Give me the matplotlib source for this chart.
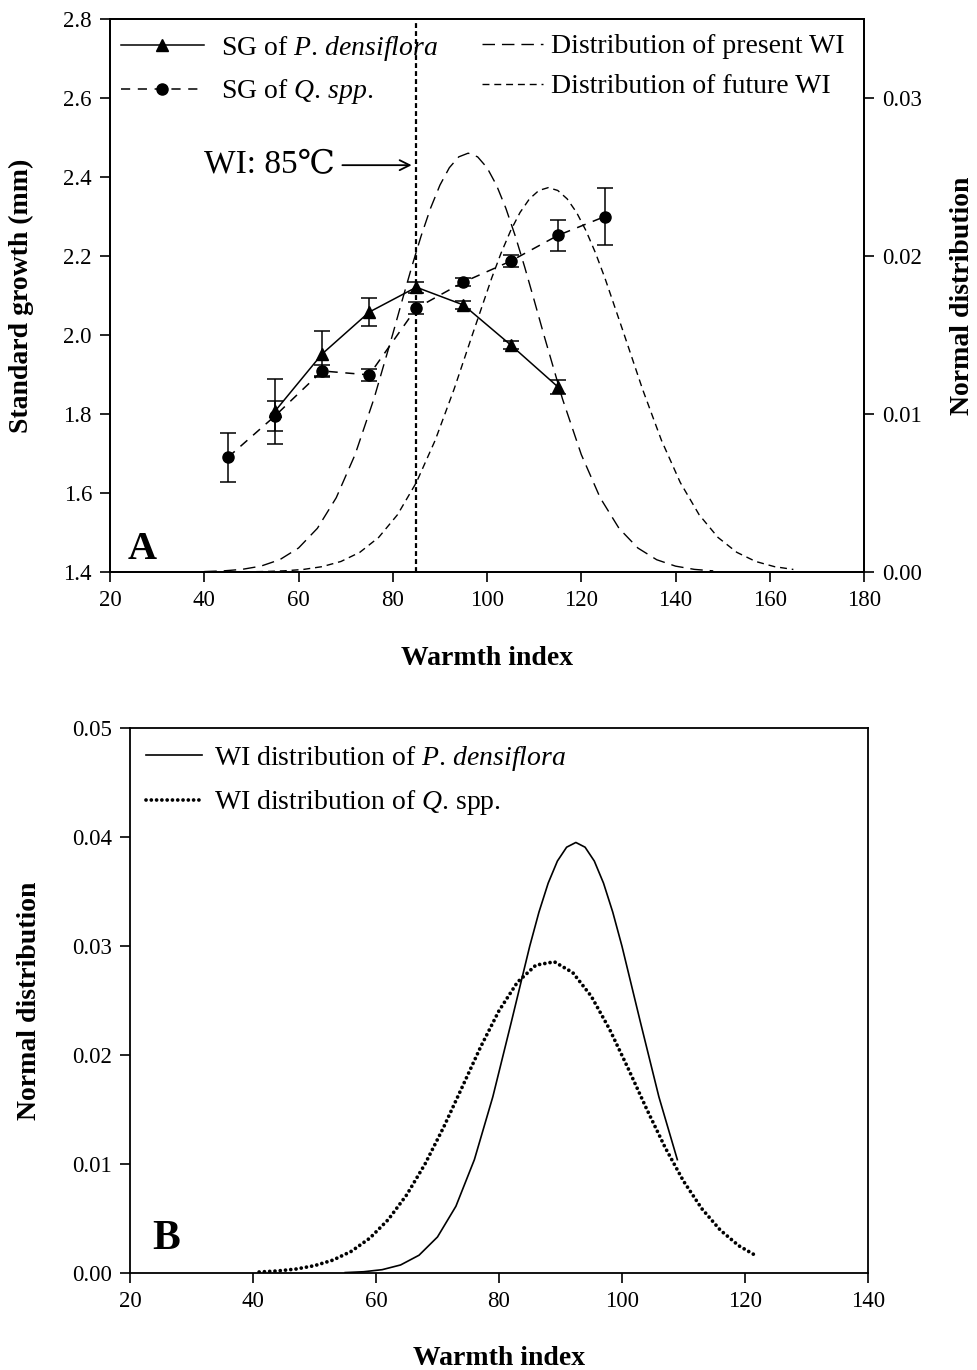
import matplotlib
matplotlib.use("Agg")
import matplotlib.pyplot as plt
from matplotlib.lines import Line2D

plt.rcParams['font.family'] = ['Liberation Serif', 'DejaVu Serif']
plt.rcParams['mathtext.fontset'] = 'custom'
plt.rcParams['mathtext.rm'] = 'Liberation Serif'
plt.rcParams['mathtext.it'] = 'Liberation Serif:italic'
plt.rcParams['mathtext.bf'] = 'Liberation Serif:bold'

# ---- panel A data ----
# standard growth of P. densiflora
wi_p = [55, 65, 75, 85, 95, 105, 115]
sg_p = [1.807, 1.952, 2.058, 2.121, 2.076, 1.975, 1.869]
err_p = [0.082, 0.058, 0.036, 0.014, 0.010, 0.010, 0.018]

# standard growth of Q. spp.
wi_q = [45, 55, 65, 75, 85, 95, 105, 115, 125]
sg_q = [1.690, 1.795, 1.909, 1.899, 2.068, 2.134, 2.187, 2.252, 2.300]
err_q = [0.063, 0.038, 0.014, 0.016, 0.015, 0.010, 0.015, 0.040, 0.073]

# distribution of present WI
wi_present = [40, 44, 48, 52, 56, 60, 64, 68, 72, 76, 80, 82, 84, 86, 88, 90,
              92, 94, 96, 98, 100, 102, 104, 106, 108, 110, 112, 116, 120,
              124, 128, 132, 136, 140, 144, 148]
dist_present = [0.000026, 0.000068, 0.000164, 0.000369, 0.000775, 0.001517,
                0.002764, 0.004700, 0.007431, 0.010962, 0.015068, 0.017200,
                0.019289, 0.021259, 0.023016, 0.024485, 0.025590, 0.026277,
                0.026510, 0.026277, 0.025590, 0.024485, 0.023016, 0.021259,
                0.019289, 0.017200, 0.015068, 0.010962, 0.007431, 0.004700,
                0.002764, 0.001517, 0.000775, 0.000369, 0.000164, 0.000068]

# distribution of future WI
wi_future = [41, 45, 49, 53, 57, 61, 65, 69, 73, 77, 81, 85, 89, 93, 97, 101,
             103, 105, 107, 109, 111, 113, 115, 117, 119, 121, 123, 125, 129,
             133, 137, 141, 145, 149, 153, 157, 161, 165]
dist_future = [0.0000016, 0.0000045, 0.000012, 0.000030, 0.000072, 0.000160,
               0.000336, 0.000665, 0.001243, 0.002187, 0.003625, 0.005664,
               0.008340, 0.011566, 0.015116, 0.018615, 0.020204, 0.021600,
               0.022756, 0.023617, 0.024150, 0.024330, 0.024150, 0.023617,
               0.022756, 0.021600, 0.020204, 0.018615, 0.015116, 0.011566,
               0.008340, 0.005664, 0.003625, 0.002187, 0.001243, 0.000665,
               0.000336, 0.000160]

# ---- panel B data ----
wi_b_p = [55, 58, 61, 64, 67, 70, 73, 76, 79, 82, 85, 86.5, 88, 89.5, 91,
          92.5, 94, 95.5, 97, 98.5, 100, 103, 106, 109]
dist_b_p = [0.000040, 0.000116, 0.000305, 0.000737, 0.001631, 0.003305,
            0.006126, 0.010400, 0.016167, 0.023009, 0.029981, 0.033109,
            0.035767, 0.037795, 0.039066, 0.039500, 0.039066, 0.037795,
            0.035767, 0.033109, 0.029981, 0.023009, 0.016167, 0.010400]

wi_b_q = [41, 44, 47, 50, 53, 56, 59, 62, 65, 68, 71, 74, 77, 80, 83, 86, 89,
          92, 95, 98, 101, 104, 107, 110, 113, 116, 119, 122]
dist_b_q = [0.000093, 0.000189, 0.000365, 0.000673, 0.001185, 0.001992,
            0.003198, 0.004903, 0.007175, 0.010025, 0.013373, 0.017036,
            0.020721, 0.024061, 0.026681, 0.028245, 0.028553, 0.027559,
            0.025397, 0.022345, 0.018773, 0.015061, 0.011534, 0.008434,
            0.005889, 0.003927, 0.002499, 0.001519]

fig = plt.figure(figsize=(9.78, 13.7), dpi=100)

tick_fs = 16.5
lab_fs = 20
leg_fs = 20


def style_axis(ax):
    for s in ax.spines.values():
        s.set_linewidth(1.3)
    ax.tick_params(direction='out', length=7, width=1.2, labelsize=tick_fs,
                   pad=6)


# ===================== panel A =====================
ax = fig.add_axes([0.1125, 0.5825, 0.771, 0.4036])
ax2 = ax.twinx()

ax2.plot(wi_present, dist_present, color='black', lw=1.0,
         linestyle=(0, (9, 5)))
ax2.plot(wi_future, dist_future, color='black', lw=1.0,
         linestyle=(0, (5, 3.5)))
ax2.set_ylim(0, 0.035)
ax2.set_yticks([0.0, 0.01, 0.02, 0.03])
ax2.set_yticklabels(['0.00', '0.01', '0.02', '0.03'])

ax.set_zorder(ax2.get_zorder() + 1)
ax.patch.set_visible(False)

ax.errorbar(wi_p, sg_p, yerr=err_p, color='black', lw=1.1, marker='^',
            markersize=8, capsize=6, capthick=1.1, elinewidth=1.1)
ax.errorbar(wi_q, sg_q, yerr=err_q, color='black', lw=1.1, marker='o',
            markersize=8, capsize=6, capthick=1.1, elinewidth=1.1,
            linestyle=(0, (6, 5)))

ax.axvline(85, color='black', lw=1.6, linestyle=(0, (2.2, 1.4)))

ax.set_xlim(20, 180)
ax.set_ylim(1.4, 2.8)
ax.set_xticks(range(20, 181, 20))
ax.set_yticks([1.4, 1.6, 1.8, 2.0, 2.2, 2.4, 2.6, 2.8])
ax.set_yticklabels(['1.4', '1.6', '1.8', '2.0', '2.2', '2.4', '2.6', '2.8'])
style_axis(ax)
style_axis(ax2)

ax.text(67.8, 2.43, 'WI: 85\u2103', fontsize=24, ha='right', va='center',
        family=['Liberation Serif', 'DejaVu Serif'])
ax.annotate('', xy=(84.0, 2.43), xytext=(69.3, 2.43),
            arrowprops=dict(arrowstyle='->', lw=1.3, color='black',
                            mutation_scale=18, shrinkA=0, shrinkB=0))

ax.text(26.8, 1.458, 'A', fontsize=29, fontweight='bold', ha='center',
        va='center')

ax.text(0.5, -0.157, 'Warmth index', transform=ax.transAxes, fontsize=lab_fs,
        fontweight='bold', ha='center', va='center')
ax.text(-0.117, 0.5, 'Standard growth (mm)', transform=ax.transAxes,
        fontsize=lab_fs, fontweight='bold', ha='center', va='center',
        rotation=90)
ax.text(1.13, 0.5, 'Normal distribution', transform=ax.transAxes,
        fontsize=lab_fs, fontweight='bold', ha='center', va='center',
        rotation=90)

h1 = [Line2D([], [], color='black', lw=1.1, marker='^', markersize=8),
      Line2D([], [], color='black', lw=1.1, marker='o', markersize=8,
             linestyle=(0, (6, 5)))]
leg1 = ax.legend(h1, [r'SG of $\mathit{P.\,densiflora}$',
                      r'SG of $\mathit{Q.\,spp.}$'],
                 loc='upper left', bbox_to_anchor=(0.014, 0.973),
                 frameon=False, fontsize=leg_fs, handlelength=3.0,
                 handletextpad=0.6, borderpad=0, borderaxespad=0,
                 labelspacing=0.52)
ax.add_artist(leg1)
h2 = [Line2D([], [], color='black', lw=1.0, linestyle=(0, (9, 5))),
      Line2D([], [], color='black', lw=1.0, linestyle=(0, (5, 3.5)))]
ax.legend(h2, ['Distribution of present WI', 'Distribution of future WI'],
          loc='upper left', bbox_to_anchor=(0.493, 0.973), frameon=False,
          fontsize=leg_fs, handlelength=2.2, handletextpad=0.3,
          borderpad=0, borderaxespad=0, labelspacing=0.52)

# ===================== panel B =====================
bx = fig.add_axes([0.1329, 0.0708, 0.7546, 0.3978])
bx.plot(wi_b_p, dist_b_p, color='black', lw=1.2)
bx.plot(wi_b_q, dist_b_q, color='black', lw=2.7,
        linestyle=(0, (0.01, 1.4)), dash_capstyle='round')
bx.set_xlim(20, 140)
bx.set_ylim(0, 0.05)
bx.set_xticks(range(20, 141, 20))
bx.set_yticks([0.0, 0.01, 0.02, 0.03, 0.04, 0.05])
bx.set_yticklabels(['0.00', '0.01', '0.02', '0.03', '0.04', '0.05'])
style_axis(bx)

bx.text(25.9, 0.0031, 'B', fontsize=30, fontweight='bold', ha='center',
        va='center')
bx.text(0.5, -0.156, 'Warmth index', transform=bx.transAxes, fontsize=lab_fs,
        fontweight='bold', ha='center', va='center')
bx.text(-0.136, 0.5, 'Normal distribution', transform=bx.transAxes,
        fontsize=lab_fs, fontweight='bold', ha='center', va='center',
        rotation=90)

hb = [Line2D([], [], color='black', lw=1.2),
      Line2D([], [], color='black', lw=2.7, linestyle=(0, (0.01, 1.4)),
             dash_capstyle='round')]
bx.legend(hb, [r'WI distribution of $\mathit{P.\,densiflora}$',
               r'WI distribution of $\mathit{Q}$. spp.'],
          loc='upper left', bbox_to_anchor=(0.022, 0.971), frameon=False,
          fontsize=leg_fs, handlelength=2.0, handletextpad=0.45,
          borderpad=0, borderaxespad=0, labelspacing=0.56)

fig.savefig('out.png', dpi=100)
